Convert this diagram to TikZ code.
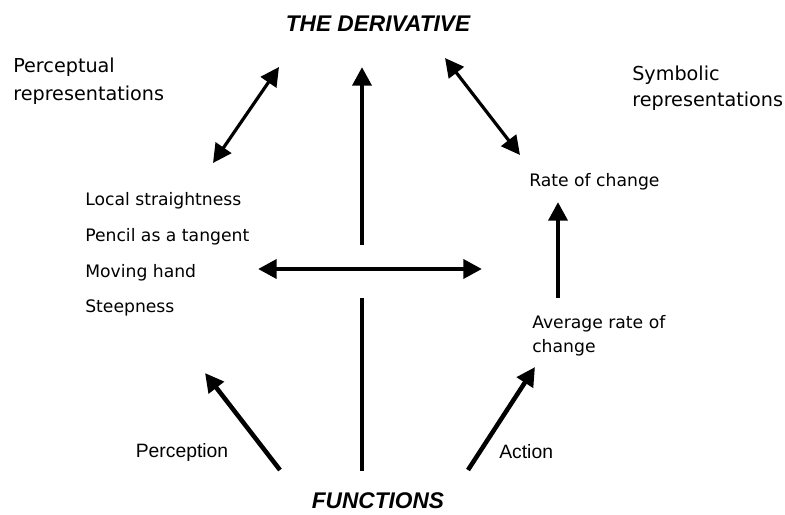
\documentclass[tikz,border=0pt]{standalone}
\usepackage{fontspec}
\setmainfont{Liberation Sans}
\newfontfamily\tahoma{DejaVu Sans}
\usetikzlibrary{arrows.meta, positioning}

\begin{document}
\begin{tikzpicture}[x=0.75pt, y=-0.75pt,
    >={Triangle[length=14pt,width=14pt]},
    title/.style={font=\fontsize{17}{20}\selectfont\bfseries\itshape, inner sep=0pt},
    side/.style={font=\tahoma\fontsize{14.4}{21}\selectfont, align=left, anchor=west, inner sep=0pt},
    item/.style={font=\tahoma\fontsize{12.9}{17}\selectfont, align=left, inner sep=0pt, text height=9.5pt, text depth=3pt},
    mode/.style={font=\fontsize{14.5}{17}\selectfont, inner sep=0pt},
    heavy/.style={line width=3.4pt},
    light/.style={line width=2.4pt}]
    \useasboundingbox (0,0) rectangle (785,514);
    % main concepts
    \node (der) [title] at (378,24) {THE DERIVATIVE};
    \node (fun) [title] at (378,501) {FUNCTIONS};
    \node (per) [side] at (13,81) {Perceptual\\representations};
    \node (sym) [side,font=\tahoma\fontsize{14.4}{19.5}\selectfont] at (632,88) {Symbolic\\representations};
    % perceptual side
    \node (loc) [item,anchor=west] at (85,201) {Local straightness};
    \node (pen) [item,below=14pt of loc.south west,anchor=north west] {Pencil as a tangent};
    \node (mov) [item,below=14pt of pen.south west,anchor=north west] {Moving hand};
    \node (ste) [item,below=14pt of mov.south west,anchor=north west] {Steepness};
    % symbolic side
    \node (roc) [item,anchor=west] at (529,182) {Rate of change};
    \node (avg) [item,anchor=west,text height=,text depth=,font=\tahoma\fontsize{12.9}{18}\selectfont] at (532,336) {Average rate of\\change};
    \node (prc) [mode] at (182,452) {Perception};
    \node (act) [mode,anchor=west] at (499,452) {Action};
    % arrow ends
    \coordinate (pl) at (213,163);
    \coordinate (pu) at (279,67);
    \coordinate (cu) at (362,67);
    \coordinate (cm) at (362,245);
    \coordinate (cb) at (362,298);
    \coordinate (cl) at (362,471);
    \coordinate (su) at (445,58);
    \coordinate (sl) at (520,155);
    \coordinate (hl) at (258,269);
    \coordinate (hr) at (482,269);
    \coordinate (rt) at (558,202);
    \coordinate (rb) at (558,298);
    \coordinate (ll) at (280,470);
    \coordinate (lt) at (205,373);
    \coordinate (rl) at (468,470);
    \coordinate (ru) at (535,367);
    \draw [light,<->] (pl) -- (pu);
    \draw [light,<->] (su) -- (sl);
    \draw [heavy,->] (cm) -- (cu);
    \draw [heavy,<->] (hl) -- (hr);
    \draw [heavy] (cb) -- (cl);
    \draw [heavy,->] (rb) -- (rt);
    \draw [heavy,->] (ll) -- (lt);
    \draw [heavy,->] (rl) -- (ru);
\end{tikzpicture}
\end{document}
